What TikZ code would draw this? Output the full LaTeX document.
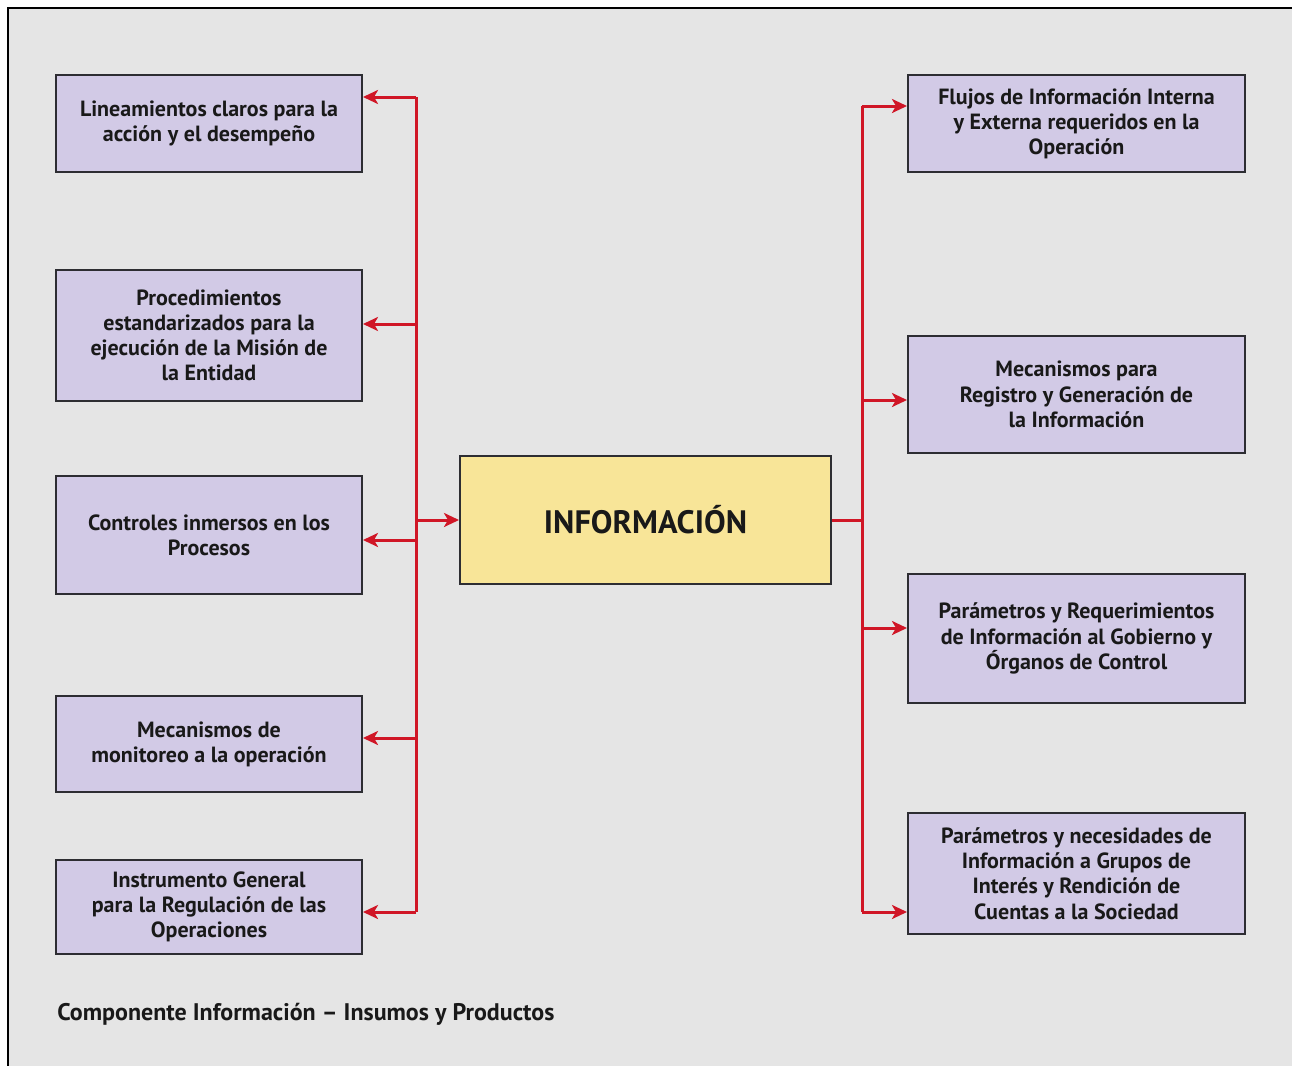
\documentclass[tikz,border=0pt]{standalone}
\usepackage{fontspec}
\setmainfont{PT Sans}
\usetikzlibrary{arrows.meta}
\definecolor{bggray}{RGB}{229,229,229}
\definecolor{lav}{RGB}{210,202,230}
\definecolor{yel}{RGB}{248,229,152}
\definecolor{conred}{RGB}{208,22,38}
\definecolor{edge}{RGB}{45,45,50}
\tikzset{
  box/.style={draw=edge, line width=1pt, fill=lav, align=center, inner sep=2pt,
    font=\fontsize{11}{12.6}\selectfont\bfseries, text=black!90},
  lbox/.style={box, minimum width=153pt},
  rbox/.style={box, minimum width=168.5pt},
  conn/.style={draw=conred, line width=1.5pt},
  arr/.style={conn, -{Stealth[length=7.5pt,width=7pt,inset=2pt]}}
}
\begin{document}
\begin{tikzpicture}[x=0.5pt,y=-0.5pt]
\useasboundingbox (0,0) rectangle (1292,1066);
\fill[white] (0,0) rectangle (1292,1066);
\fill[bggray] (8,8) rectangle (1292,1066);
\draw[black, line width=1.2pt] (8,1066) -- (8,8) -- (1292,8);

% left boxes
\node[lbox, minimum height=48.5pt] (L1) at (209,123.5) {Lineamientos claros para la\\acción y el desempeño};
\node[lbox, minimum height=65.5pt] (L2) at (209,335.5) {Procedimientos\\estandarizados para la\\ejecución de la Misión de\\la Entidad};
\node[lbox, minimum height=59pt] (L3) at (209,535) {Controles inmersos en los\\Procesos};
\node[lbox, minimum height=48pt] (L4) at (209,744) {Mecanismos de\\monitoreo a la operación};
\node[lbox, minimum height=47pt] (L5) at (209,907) {Instrumento General\\para la Regulación de las\\Operaciones};

% center
\node[draw=edge, line width=1pt, fill=yel, minimum width=185.5pt, minimum height=64pt,
  font=\fontsize{16.2}{18}\selectfont\bfseries, text=black!90] (C) at (645.5,520) {INFORMACIÓN};

% right boxes
\node[rbox, minimum height=48.5pt] (R1) at (1076.5,123.5) {Flujos de Información Interna\\y Externa requeridos en la\\Operación};
\node[rbox, minimum height=58.5pt] (R2) at (1076.5,394.5) {Mecanismos para\\Registro y Generación de\\la Información};
\node[rbox, minimum height=64.5pt] (R3) at (1076.5,638.5) {Parámetros y Requerimientos\\de Información al Gobierno y\\Órganos de Control};
\node[rbox, minimum height=60.5pt] (R4) at (1076.5,873.5) {Parámetros y necesidades de\\Información a Grupos de\\Interés y Rendición de\\Cuentas a la Sociedad};

% caption
\node[anchor=west, inner sep=0pt, font=\fontsize{12}{14}\selectfont\bfseries, text=black!90] (cap) at (57,1014) {Componente Información – Insumos y Productos};

% left bus
\coordinate (b1) at (416,97);
\coordinate (b2) at (416,324);
\coordinate (b3) at (416,540);
\coordinate (b4) at (416,738);
\coordinate (b5) at (416,912);
\coordinate (bc) at (416,520);
\draw[conn] (b1) -- (b5);
\draw[arr] (b1) -- (b1 -| L1.east);
\draw[arr] (b2) -- (b2 -| L2.east);
\draw[arr] (b3) -- (b3 -| L3.east);
\draw[arr] (b4) -- (b4 -| L4.east);
\draw[arr] (b5) -- (b5 -| L5.east);
\draw[arr] (bc) -- (bc -| C.west);

% right bus
\coordinate (r1) at (862,106);
\coordinate (r2) at (862,400);
\coordinate (r3) at (862,628);
\coordinate (r4) at (862,912);
\coordinate (rc) at (862,520);
\draw[conn] (r1) -- (r4);
\draw[conn] (C.east |- rc) -- (rc);
\draw[arr] (r1) -- (r1 -| R1.west);
\draw[arr] (r2) -- (r2 -| R2.west);
\draw[arr] (r3) -- (r3 -| R3.west);
\draw[arr] (r4) -- (r4 -| R4.west);
\end{tikzpicture}
\end{document}
